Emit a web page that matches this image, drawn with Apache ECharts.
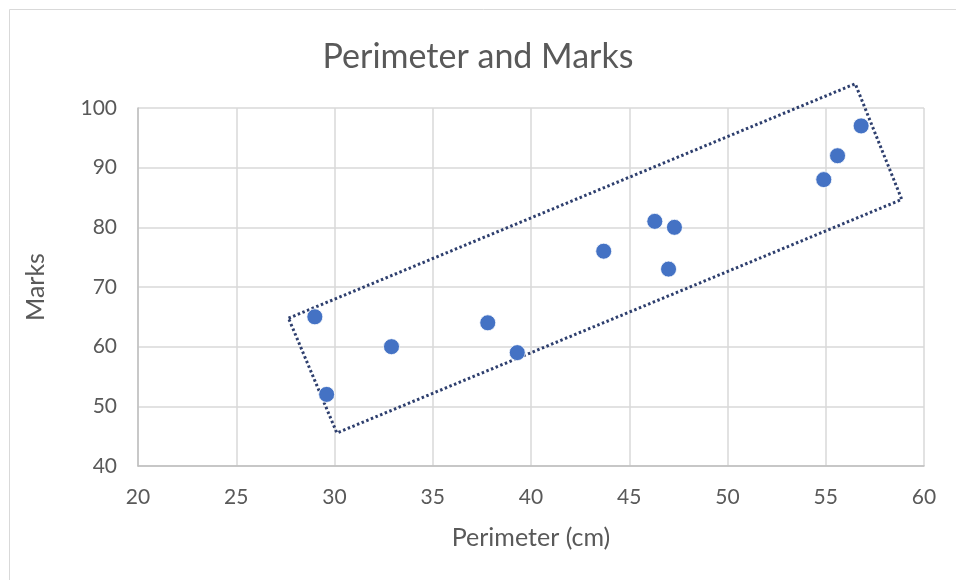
<!DOCTYPE html>
<html>
<head>
<meta charset="utf-8">
<script src="https://cdn.jsdelivr.net/npm/echarts@6/dist/echarts.min.js"></script>
<style>
html,body{margin:0;padding:0;background:#fff;}
#chart{width:956px;height:580px;}
</style>
</head>
<body>
<div id="chart"></div>
<script>
const perimeter = [29.0, 29.6, 32.9, 37.8, 39.3, 43.7, 46.3, 47.3, 47.0, 54.9, 55.6, 56.8];
const marks     = [65,   52,   60,   64,   59,   76,   81,   80,   73,   88,   92,   97];
const boxX = [27.66, 56.50, 58.87, 30.12, 27.66];
const boxY = [64.77, 104.06, 84.67, 45.54, 64.77];
const xTicks = [20, 25, 30, 35, 40, 45, 50, 55, 60];
const yTicks = [40, 50, 60, 70, 80, 90, 100];

const FONT = 'Lato, "Open Sans", sans-serif';
const chart = echarts.init(document.getElementById('chart'));
chart.setOption({
  backgroundColor: '#fff',
  animation: false,
  title: {
    text: 'Perimeter and Marks',
    left: 'center',
    top: 35,
    textStyle: { fontFamily: FONT, fontSize: 34, fontWeight: 'normal', color: '#595959' }
  },
  graphic: [{
    type: 'rect', silent: true,
    shape: { x: 9.5, y: 9.5, width: 960, height: 600 },
    style: { fill: 'none', stroke: '#D9D9D9', lineWidth: 1 }
  }],
  grid: { left: 138, right: 32, top: 108, bottom: 114 },
  xAxis: {
    type: 'value',
    min: xTicks[0], max: xTicks[xTicks.length - 1], interval: 5,
    name: 'Perimeter (cm)', nameLocation: 'middle', nameGap: 59,
    nameTextStyle: { fontFamily: FONT, fontSize: 25, color: '#595959' },
    axisLine: { show: true, lineStyle: { color: '#BFBFBF', width: 1.5 } },
    axisTick: { show: false },
    axisLabel: { margin: 21, fontFamily: FONT, fontSize: 21, color: '#595959' },
    splitLine: { show: true, lineStyle: { color: '#D9D9D9', width: 1.5 } }
  },
  yAxis: {
    type: 'value',
    min: yTicks[0], max: yTicks[yTicks.length - 1], interval: 10,
    name: 'Marks', nameLocation: 'middle', nameGap: 90,
    nameTextStyle: { fontFamily: FONT, fontSize: 25, color: '#595959' },
    axisLine: { show: true, onZero: false, lineStyle: { color: '#BFBFBF', width: 1.5 } },
    axisTick: { show: false },
    axisLabel: { margin: 21, fontFamily: FONT, fontSize: 21, color: '#595959' },
    splitLine: { show: true, lineStyle: { color: '#D9D9D9', width: 1.5 } }
  },
  series: [
    {
      type: 'line',
      data: boxX.map((x, i) => [x, boxY[i]]),
      clip: false,
      symbol: 'none',
      z: 1,
      lineStyle: { color: '#2E3F6E', width: 3, type: [2.5, 2.5], cap: 'butt' }
    },
    {
      type: 'scatter',
      data: perimeter.map((x, i) => [x, marks[i]]),
      symbolSize: 16,
      z: 3,
      itemStyle: { color: '#4472C4', opacity: 1, borderColor: '#fff', borderWidth: 0.8 }
    }
  ]
});
</script>
</body>
</html>
